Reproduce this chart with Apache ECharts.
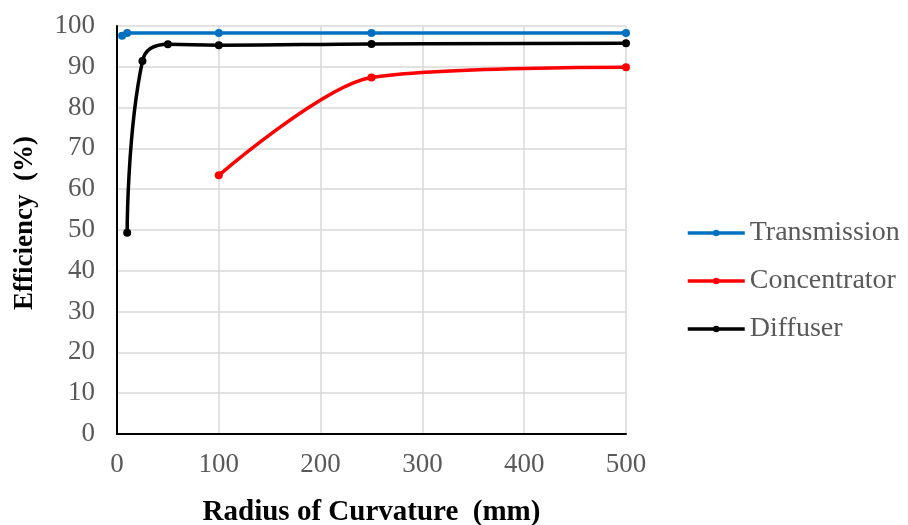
<!DOCTYPE html>
<html>
<head>
<meta charset="utf-8">
<script src="https://cdn.jsdelivr.net/npm/echarts@6/dist/echarts.min.js"></script>
<style>html,body{margin:0;padding:0;background:#fff}#c{width:908px;height:525px}</style>
</head>
<body>
<div id="c"></div>
<script>
var seriesNames = ['Transmission', 'Concentrator', 'Diffuser'];
var transmissionX = [5, 10, 100, 250, 500];
var transmissionY = [97.6, 98.3, 98.3, 98.3, 98.3];
var concentratorX = [100, 250, 500];
var concentratorY = [63.4, 87.4, 89.9];
var diffuserX = [10, 25, 50, 100, 250, 500];
var diffuserY = [49.3, 91.4, 95.5, 95.3, 95.6, 95.8];
var xTicks = [0, 100, 200, 300, 400, 500];
var yTicks = [0, 10, 20, 30, 40, 50, 60, 70, 80, 90, 100];

function pairs(xs, ys) { return xs.map(function (x, i) { return [x, ys[i]]; }); }

var FONT = '"Liberation Serif", "Times New Roman", serif';
var chart = echarts.init(document.getElementById('c'), null, { renderer: 'canvas' });
var colors = ['#0070C0', '#FF0000', '#000000'];
var smoothing = [0.45, 0.28, 0.45];
var datas = [pairs(transmissionX, transmissionY), pairs(concentratorX, concentratorY), pairs(diffuserX, diffuserY)];

chart.setOption({
  animation: false,
  backgroundColor: '#fff',
  grid: { left: 117, right: 282, top: 26, bottom: 91, containLabel: false, outerBoundsMode: 'none' },
  legend: {
    orient: 'vertical',
    left: 681,
    top: 214,
    itemWidth: 57,
    itemHeight: 8,
    itemGap: 20,
    lineStyle: { width: 3.5 },
    textStyle: { fontFamily: FONT, fontSize: 28, color: '#595959' },
    data: seriesNames
  },
  xAxis: {
    type: 'value',
    min: xTicks[0],
    max: xTicks[xTicks.length - 1],
    interval: 100,
    name: 'Radius of Curvature  (mm)',
    nameLocation: 'middle',
    nameGap: 64,
    nameTextStyle: { fontFamily: FONT, fontSize: 29, fontWeight: 'bold', color: '#000' },
    axisLine: { show: true, lineStyle: { color: '#000', width: 2 } },
    axisTick: { show: false },
    axisLabel: { fontFamily: FONT, fontSize: 27, color: '#595959', margin: 17 },
    splitLine: { show: true, lineStyle: { color: '#D9D9D9', width: 1.5 } }
  },
  yAxis: {
    type: 'value',
    min: yTicks[0],
    max: yTicks[yTicks.length - 1],
    interval: 10,
    name: 'Efficiency  (%)',
    nameLocation: 'middle',
    nameGap: 78,
    nameRotate: 90,
    nameTextStyle: { fontFamily: FONT, fontSize: 27, fontWeight: 'bold', color: '#000', padding: [0, 0, 0, 14] },
    axisLine: { show: true, lineStyle: { color: '#000', width: 2 } },
    axisTick: { show: false },
    axisLabel: { fontFamily: FONT, fontSize: 27, color: '#595959', margin: 22 },
    splitLine: { show: true, lineStyle: { color: '#D9D9D9', width: 1.5 } }
  },
  series: seriesNames.map(function (n, i) {
    return {
      name: n,
      type: 'line',
      data: datas[i],
      smooth: smoothing[i],
      symbol: 'circle',
      symbolSize: 8,
      showSymbol: true,
      color: colors[i],
      lineStyle: { color: colors[i], width: 3.5 },
      itemStyle: { color: colors[i] },
      z: 3 - i
    };
  })
});
</script>
</body>
</html>
